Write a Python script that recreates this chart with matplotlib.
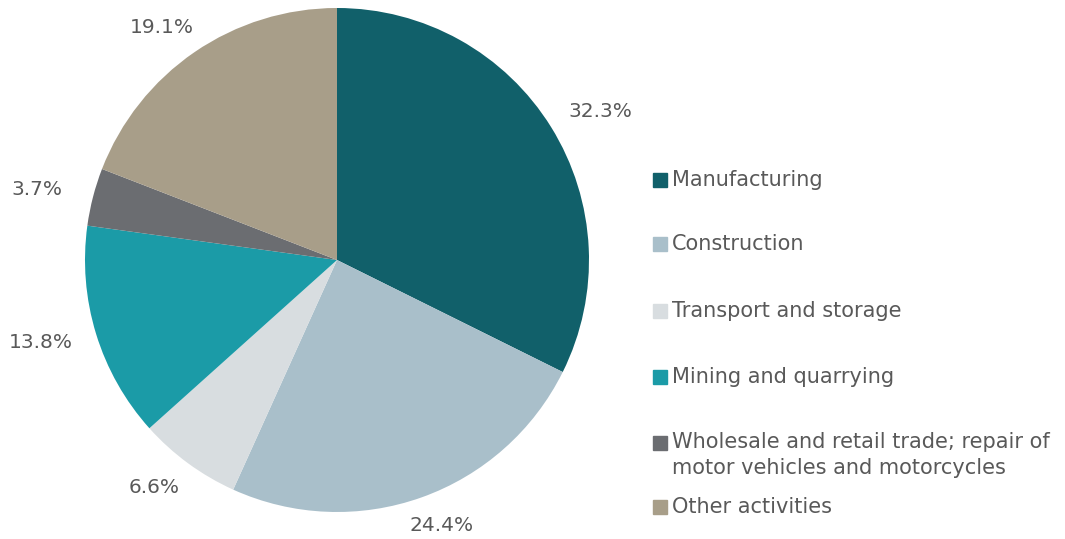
import matplotlib.pyplot as plt
from matplotlib.patches import Rectangle
import numpy as np

# sector shares (%), in drawing order (clockwise from 12 o'clock)
sectors = ["Manufacturing", "Construction", "Transport and storage",
           "Mining and quarrying",
           "Wholesale and retail trade; repair of\nmotor vehicles and motorcycles",
           "Other activities"]
shares = [32.3, 24.4, 6.6, 13.8, 3.7, 19.1]
colors = ["#11606A", "#A9BFCA", "#D8DDE0", "#1B9BA7", "#6B6D71", "#A89E89"]

txt_color = "#595959"
W, H = 1065, 539
fig = plt.figure(figsize=(W / 100, H / 100), dpi=100)

# pie axes: centre ~ (337, 260) px, radius ~ 252 px
cx, cy, r = 337, 260, 252
ax = fig.add_axes([(cx - r) / W, (H - cy - r) / H, 2 * r / W, 2 * r / H])
wedges, _ = ax.pie(shares, colors=colors, startangle=90, counterclock=False,
                   wedgeprops=dict(linewidth=0), radius=1.0)
ax.set_aspect("equal")
ax.set_xlim(-1, 1)
ax.set_ylim(-1, 1)

# percentage labels just outside each wedge
for w, v in zip(wedges, shares):
    ang = np.deg2rad((w.theta1 + w.theta2) / 2)
    dx, dy = np.cos(ang), np.sin(ang)
    ax.annotate(f"{v:.1f}%", xy=(dx, dy), xytext=(dx * 58, dy * 30),
                textcoords="offset pixels", ha="center", va="center",
                fontsize=14.5, color=txt_color, annotation_clip=False)

# legend, drawn by hand so the two-line entry sits like the original
leg_y = [180, 244, 311, 377, 443, 507]
for lab, c, y in zip(sectors, colors, leg_y):
    fig.patches.append(Rectangle((653 / W, 1 - (y + 7) / H), 14 / W, 14 / H,
                                 transform=fig.transFigure, color=c))
    if "\n" in lab:
        fig.text(672 / W, 1 - (y - 11) / H, lab, ha="left", va="top",
                 fontsize=15, color=txt_color, linespacing=1.35)
    else:
        fig.text(672 / W, 1 - y / H, lab, ha="left", va="center",
                 fontsize=15, color=txt_color)

fig.savefig("out.png", dpi=100)
